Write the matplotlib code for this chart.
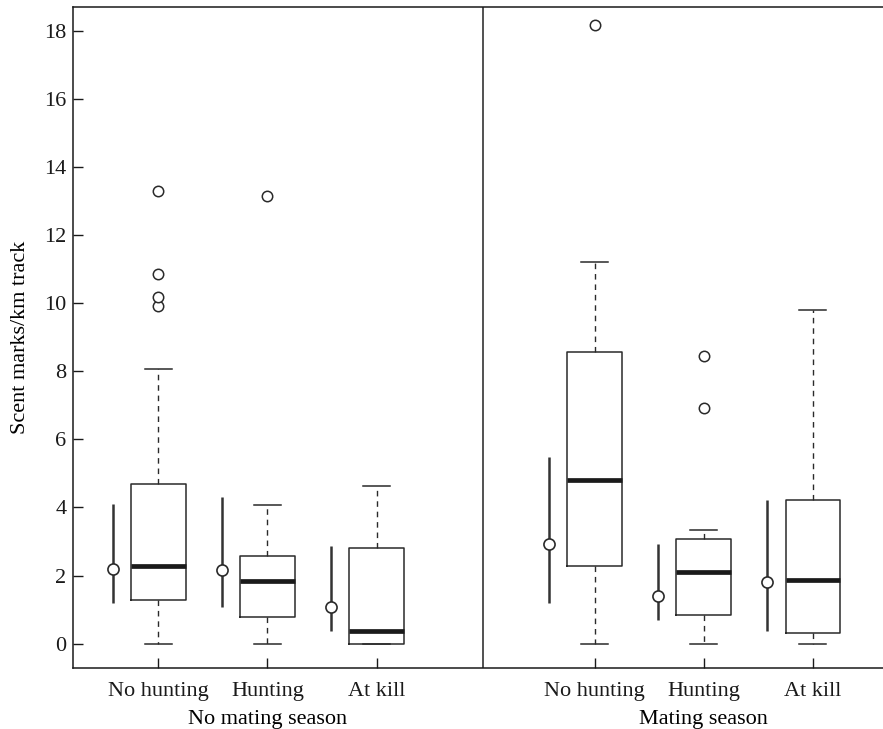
import matplotlib.pyplot as plt
import numpy as np

plt.rcParams['font.family'] = ['Liberation Serif', 'DejaVu Serif']

# categories
groups = ['No hunting', 'Hunting', 'At kill']
seasons = ['No mating season', 'Mating season']
positions = [1, 2, 3, 5, 6, 7]

# box statistics
q1 = [1.29, 0.78, 0.0, 2.27, 0.85, 0.30]
med = [2.27, 1.84, 0.38, 4.82, 2.09, 1.88]
q3 = [4.68, 2.56, 2.81, 8.58, 3.07, 4.22]
whis_lo = [0, 0, 0, 0, 0, 0]
whis_hi = [8.07, 4.06, 4.63, 11.22, 3.35, 9.79]
outliers = [[9.91, 10.20, 10.86, 13.29], [13.15], [], [18.18], [6.93, 8.46], []]

# mean and interval shown beside each box
means = [2.20, 2.17, 1.07, 2.92, 1.40, 1.81]
ci_lo = [1.19, 1.07, 0.38, 1.19, 0.68, 0.38]
ci_hi = [4.09, 4.31, 2.88, 5.49, 2.92, 4.21]

ink = '#2a2a2a'
fs = 16

fig = plt.figure(figsize=(8.83, 7.29), dpi=100)
ax = fig.add_axes([0.083, 0.084, 0.919, 0.906])

stats = []
for i in range(len(positions)):
    stats.append(dict(med=med[i], q1=q1[i], q3=q3[i],
                      whislo=whis_lo[i], whishi=whis_hi[i],
                      fliers=outliers[i]))

ax.bxp(stats, positions=positions, widths=0.5, showfliers=True,
       boxprops=dict(color=ink, linewidth=1.1),
       medianprops=dict(color='#1a1a1a', linewidth=3.4, solid_capstyle='butt'),
       whiskerprops=dict(color=ink, linewidth=1.0, linestyle=(0, (4, 3.5))),
       capprops=dict(color=ink, linewidth=1.1),
       capwidths=0.25,
       flierprops=dict(marker='o', markersize=7.5, markerfacecolor='white',
                       markeredgecolor=ink, markeredgewidth=1.1))

# means with intervals, offset to the left of each box
mx = np.array(positions) - 0.42
ax.vlines(mx, ci_lo, ci_hi, color='#333333', linewidth=1.8)
ax.plot(mx, means, 'o', markersize=8, markerfacecolor='white',
        markeredgecolor=ink, markeredgewidth=1.2, zorder=3)

# separator between seasons
ax.axvline(3.98, color='#222222', linewidth=1.1)

ax.set_xlim(0.22, 7.66)
ax.set_ylim(-0.71, 18.7)
ax.set_yticks(np.arange(0, 19, 2))
ax.set_xticks(positions)
ax.set_xticklabels(groups * 2)
ax.tick_params(direction='in', length=7, width=1, labelsize=fs, pad=10, colors='#1a1a1a')
ax.tick_params(axis='y', pad=5)
for s in ax.spines.values():
    s.set_linewidth(1.1)
    s.set_color('#1a1a1a')
ax.spines['right'].set_visible(False)

ax.set_ylabel('Scent marks/km track', fontsize=fs, labelpad=10)

xt = ax.get_xaxis_transform()
ax.text(2, -0.078, seasons[0], transform=xt, ha='center', va='center', fontsize=fs)
ax.text(6, -0.078, seasons[1], transform=xt, ha='center', va='center', fontsize=fs)

fig.savefig('out.png', dpi=100)
